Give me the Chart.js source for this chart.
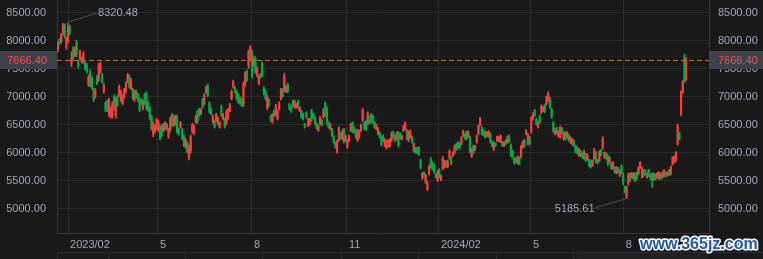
<!DOCTYPE html>
<html>
<head>
<meta charset="utf-8">
<script src="https://cdn.jsdelivr.net/npm/chart.js@4.4.1/dist/chart.umd.min.js"></script>
<style>
html, body { margin: 0; padding: 0; background: #191919; }
#wrap { position: relative; width: 763px; height: 259px; }
</style>
</head>
<body>
<div id="wrap"><canvas id="kline"></canvas></div>
<script>
// daily candles, Jan 2023 -> Sep 2024
const opens = [
  7855,8025,7990,8140,8290,7890,8000,8260,7600,7860,7750,7980,7640,7690,7620,7640,7610,7570,7220,7440,7330,7120,7000,7360,7320,7460,7400,7100,6890,6920,6700,6650,6660,7000,6670,7010,7040,6950,6880,7000,7100,7280,7360,7160,7130,6950,7100,7040,6950,6960,6800,7040,7060,6890,6800,6650,6330,6370,6440,6410,6470,6470,6400,6430,
  6510,6290,6420,6680,6500,6530,6640,6420,6460,6420,6300,6110,6180,5920,6040,6380,6350,6550,6740,6780,6700,6950,6890,7090,7200,6890,6780,6550,6570,6580,6520,6460,6830,6610,6600,6540,6620,6760,6970,7180,7170,7100,7040,6990,6960,6880,7220,7450,7550,7700,7800,7570,7690,7390,7240,7410,7600,7160,7100,6800,6960,6660,6550,6750,
  6690,6610,6790,6970,7130,7130,7100,7220,6870,6820,6930,6820,6810,6920,6750,6750,6690,6520,6720,6490,6520,6750,6700,6630,6530,6400,6520,6590,6640,6880,6790,6540,6430,6420,6290,6190,6030,6240,6350,6250,6410,6220,6100,6220,6400,6530,6460,6400,6230,6280,6400,6590,6540,6560,6530,6640,6690,6660,6540,6430,6340,6360,6280,6300,
  6130,6090,6120,6120,6230,6370,6300,6250,6350,6350,6245,6400,6430,6400,6230,6280,6290,6040,6090,6090,6100,5870,5550,5650,5480,5350,5630,5890,5830,5790,5625,5510,5700,5520,5730,5750,5850,5760,5910,5920,5950,6000,6160,6190,6180,6160,6310,6340,6370,6290,6280,5940,6120,6060,6190,6340,6500,6450,6410,6370,6300,6290,6340,6210,
  6060,6175,6220,6215,6200,6190,6130,6220,6190,6300,6140,6040,5905,5900,5820,5920,5930,6100,6230,6340,6170,6280,6380,6610,6760,6600,6460,6660,6720,6750,6860,6880,6940,6970,6780,6540,6340,6445,6295,6290,6445,6250,6360,6280,6325,6190,6160,6220,6130,6100,5955,6040,5995,5910,5980,5880,5875,5860,5775,5900,6000,5880,5870,6050,
  6090,5920,5995,5945,5830,5815,5725,5745,5645,5735,5595,5770,5630,5400,5210,5450,5630,5560,5545,5635,5650,5625,5745,5570,5695,5695,5560,5695,5615,5620,5525,5615,5560,5545,5625,5560,5595,5655,5600,5695,5625,5800,5830,5870,6160,6350,6690,7090,7720,7310
];
const highs = [
  7989,8048,8137,8316,8305,8078,8320.48,8286,7810,7899,7899,8018,7661,7840,7721,7810,7631,7602,7393,7483,7364,7155,7155,7393,7602,7631,7423,7245,6917,6947,6977,6828,6917,7036,7006,7036,7215,7125,7036,7155,7274,7423,7393,7334,7155,7125,7125,7066,6977,6977,6947,7066,7096,6917,6828,6679,6560,6501,6620,6590,6501,6501,6530,6560,
  6530,6441,6649,6709,6679,6679,6679,6441,6560,6441,6322,6262,6203,6143,6322,6530,6501,6679,6768,6798,6798,6977,7066,7197,7233,6917,6798,6679,6590,6709,6649,6560,6858,6709,6620,6768,6798,6887,7125,7304,7185,7125,7066,7006,6977,7274,7453,7483,7840,7911,7840,7721,7721,7542,7393,7423,7631,7185,7125,7036,6977,6679,6709,6768,
  6870,6768,6917,7155,7155,7423,7197,7245,6887,6840,6947,6947,6887,6947,6828,6768,6709,6530,6739,6620,6620,6780,6709,6649,6542,6501,6661,6602,6798,6911,6828,6560,6530,6441,6304,6203,6233,6471,6364,6411,6441,6322,6245,6322,6530,6560,6471,6423,6423,6411,6518,6798,6560,6590,6739,6661,6709,6679,6560,6518,6459,6381,6304,6322,
  6262,6233,6233,6262,6381,6393,6322,6381,6381,6364,6322,6501,6560,6423,6399,6411,6304,6185,6102,6102,6114,5893,5650,5667,5626,5489,5786,5923,5846,5804,5638,5697,5721,5608,5935,5876,5864,5876,6054,5935,6024,6143,6173,6203,6191,6292,6411,6352,6393,6393,6304,6084,6143,6143,6322,6501,6637,6471,6423,6381,6381,6399,6364,6221,
  6197,6185,6304,6304,6322,6203,6203,6233,6304,6322,6161,6054,5917,5917,5947,5935,6143,6221,6245,6423,6352,6304,6649,6721,6780,6620,6560,6679,6858,6828,6875,7018,7096,6995,6798,6560,6441,6459,6399,6483,6459,6381,6381,6381,6340,6292,6262,6233,6143,6114,6084,6054,6006,6054,5995,5983,5888,5876,5876,6084,6024,5888,6042,6066,
  6292,6024,6006,5965,5935,5828,5846,5757,5757,5745,5697,5786,5650,5411,5411,5638,5650,5650,5650,5650,5667,5757,5846,5757,5709,5709,5650,5709,5626,5650,5638,5626,5650,5667,5638,5667,5709,5667,5667,5709,5768,5935,5947,6024,6518,6364,7113,7304,7768,7709
];
const lows = [
  7810,7929,7959,8108,8048,7852,7959,8108,7542,7661,7721,7721,7512,7661,7602,7602,7483,7423,7185,7185,7125,6917,6977,7215,7274,7423,7245,7066,6739,6739,6649,6620,6620,6768,6620,6828,7006,6917,6858,6977,7066,7245,7155,7125,6947,6917,6977,6917,6739,6858,6768,6858,6768,6739,6590,6411,6292,6352,6411,6381,6233,6292,6381,6411,
  6411,6262,6381,6471,6471,6501,6352,6322,6441,6233,6114,6084,5995,5876,5995,6352,6322,6530,6530,6649,6679,6798,6858,7066,7006,6709,6679,6530,6441,6560,6501,6441,6649,6590,6441,6501,6590,6739,6947,7155,7066,6947,6887,6858,6828,6828,7185,7274,7512,7661,7334,7542,7423,7364,7215,7334,7364,7036,6947,6768,6828,6560,6530,6649,
  6661,6590,6768,6947,6995,7096,7078,7078,6768,6721,6828,6798,6798,6798,6739,6620,6590,6441,6620,6471,6501,6560,6620,6501,6423,6381,6501,6483,6620,6649,6501,6441,6411,6292,6173,6084,5995,6203,6245,6233,6173,6203,6084,6203,6381,6364,6352,6262,6203,6262,6381,6560,6411,6399,6501,6518,6530,6530,6441,6411,6322,6262,6126,6203,
  6114,6066,6102,6102,6203,6262,6203,6233,6102,6245,6233,6381,6411,6233,6203,6262,6173,6024,5995,5983,5953,5715,5530,5566,5459,5328,5608,5727,5697,5638,5548,5489,5548,5507,5697,5727,5739,5739,5888,5786,5935,5983,6042,6066,6084,6143,6292,6245,6233,6280,5995,5917,5983,6042,6173,6322,6483,6322,6304,6262,6292,6280,6173,6102,
  6042,6114,6203,6203,6185,6114,6114,6143,6173,6185,5935,5905,5804,5816,5804,5786,5905,6084,6102,6322,6143,6143,6352,6590,6649,6501,6441,6530,6697,6739,6721,6858,6917,6798,6620,6364,6322,6340,6280,6262,6340,6233,6221,6262,6215,6173,6143,6114,6006,5983,5935,5935,5905,5888,5846,5864,5757,5727,5757,5876,5816,5804,5846,5947,
  6066,5905,5888,5768,5816,5709,5709,5638,5626,5638,5578,5626,5429,5292,5185.61,5429,5489,5548,5530,5489,5530,5608,5727,5548,5578,5608,5548,5578,5519,5388,5507,5519,5548,5530,5530,5548,5578,5566,5590,5590,5608,5786,5816,5846,6143,6233,6661,7066,7256,7292
];
const closes = [
  7955,7955,8110,8280,8080,8040,8260,8140,7700,7700,7870,7760,7540,7800,7700,7780,7510,7450,7350,7220,7160,6950,7120,7240,7560,7600,7270,7200,6760,6770,6940,6790,6880,6800,6970,6860,7180,7090,7000,7120,7240,7400,7190,7300,6980,7090,7000,6940,6770,6880,6920,6890,6800,6760,6620,6440,6520,6470,6590,6560,6270,6320,6500,6530,
  6430,6410,6610,6500,6650,6650,6380,6340,6540,6260,6140,6230,6020,6110,6290,6500,6470,6650,6560,6670,6780,6820,7030,7170,7030,6740,6700,6650,6460,6680,6620,6540,6680,6690,6470,6740,6770,6860,7100,7280,7080,6970,6910,6880,6850,7230,7420,7300,7800,7880,7380,7690,7460,7510,7360,7350,7400,7060,6970,7000,6850,6580,6680,6670,
  6840,6740,6890,7120,7010,7380,7180,7100,6790,6740,6850,6920,6870,6820,6810,6640,6610,6460,6640,6600,6600,6590,6640,6520,6440,6480,6640,6500,6770,6680,6540,6460,6510,6310,6190,6100,6200,6440,6260,6380,6200,6300,6220,6300,6510,6390,6370,6280,6400,6390,6500,6770,6430,6420,6710,6540,6560,6550,6460,6500,6440,6280,6150,6220,
  6240,6200,6210,6240,6350,6280,6220,6360,6130,6260,6300,6480,6540,6260,6370,6390,6190,6160,6010,6000,5970,5740,5630,5580,5600,5470,5760,5750,5720,5660,5560,5670,5570,5590,5900,5850,5760,5850,6030,5810,6010,6120,6060,6080,6100,6270,6390,6260,6250,6380,6030,6060,6000,6130,6300,6480,6610,6340,6320,6280,6370,6380,6200,6120,
  6170,6125,6290,6285,6300,6130,6190,6160,6290,6200,5960,5920,5820,5830,5930,5800,6120,6200,6120,6410,6330,6160,6620,6700,6670,6520,6540,6550,6840,6815,6740,7000,7070,6820,6640,6390,6420,6355,6380,6460,6355,6360,6240,6365,6230,6275,6245,6130,6025,6000,6065,5955,5920,6030,5865,5965,5775,5745,5860,6060,5840,5815,6020,5965,
  6260,6005,5905,5790,5920,5725,5830,5655,5740,5650,5680,5640,5450,5310,5390,5610,5510,5635,5630,5510,5550,5740,5830,5730,5595,5620,5635,5595,5535,5520,5620,5535,5635,5650,5545,5650,5690,5580,5655,5605,5750,5920,5930,6010,6480,6250,7090,7280,7290,7666.40
];

const yTicks = [5000, 5500, 6000, 6500, 7000, 7500, 8000, 8500];
// candle index where each labelled month starts
const tickAt = [6, 58.8, 114, 169.8, 223.8, 277.8, 332.3];
const tickLabels = ['2023/02', '5', '8', '11', '2024/02', '5', '8'];

const UP = '#f2403e';
const DOWN = '#07a847';
const TXT = '#9ea8b7';
const GRID = '#2b2b2b';
const BORDER = '#353535';

Chart.defaults.font.family = '"Liberation Sans", Arial, sans-serif';
Chart.defaults.font.size = 11;

const wicks = highs.map((h, i) => ({ x: i, y: [lows[i], h] }));
const bodies = opens.map((o, i) => ({ x: i, y: [Math.min(o, closes[i]), Math.max(o, closes[i])] }));
const candleColor = c => closes[c.dataIndex] >= opens[c.dataIndex] ? UP : DOWN;

const overlay = {
  id: 'overlay',
  afterDraw(chart) {
    const { ctx, chartArea: a, scales } = chart;
    const x = scales.x, y = scales.y;
    const W = chart.width;
    ctx.save();
    ctx.font = '11px "Liberation Sans", Arial, sans-serif';
    ctx.textBaseline = 'middle';

    // highest / lowest markers
    const hi = highs.indexOf(Math.max(...highs));
    const lo = lows.indexOf(Math.min(...lows));
    ctx.strokeStyle = '#4b5058';
    ctx.lineWidth = 1;
    let px = x.getPixelForValue(hi), py = y.getPixelForValue(highs[hi]);
    ctx.beginPath(); ctx.moveTo(px, py - 1); ctx.lineTo(px + 29, py - 10); ctx.stroke();
    ctx.fillStyle = TXT;
    ctx.textAlign = 'left';
    ctx.fillText(highs[hi].toFixed(2), px + 30, py - 10);
    px = x.getPixelForValue(lo); py = y.getPixelForValue(lows[lo]);
    ctx.beginPath(); ctx.moveTo(px, py); ctx.lineTo(px - 31, py + 9); ctx.stroke();
    ctx.textAlign = 'right';
    ctx.fillText(lows[lo].toFixed(2), px - 32, py + 10);

    // last price line + side boxes
    const last = closes[closes.length - 1];
    const ly = Math.round(y.getPixelForValue(last)) + 0.5;
    ctx.strokeStyle = '#c46f2f';
    ctx.setLineDash([5, 3]);
    ctx.beginPath(); ctx.moveTo(a.left, ly); ctx.lineTo(a.right, ly); ctx.stroke();
    ctx.setLineDash([]);
    ctx.fillStyle = '#3c434c';
    ctx.fillRect(0, ly - 9.5, a.left, 18);
    ctx.fillRect(a.right, ly - 9.5, W - a.right, 18);
    ctx.fillStyle = '#ff4848';
    ctx.textAlign = 'right';
    ctx.fillText(last.toFixed(2), a.left - 10, ly);
    ctx.textAlign = 'left';
    ctx.fillText(last.toFixed(2), a.right + 9, ly);

    // navigator strip at the bottom
    ctx.fillStyle = '#202020';
    ctx.fillRect(577, 253, a.right - 577, 6);
    ctx.strokeStyle = '#2e2e2e';
    ctx.beginPath(); ctx.moveTo(a.left, 252.5); ctx.lineTo(W, 252.5); ctx.stroke();
    [57, 108, 185, 262, 341, 418, 496, 573].forEach(d => {
      ctx.beginPath(); ctx.moveTo(d + 0.5, 253); ctx.lineTo(d + 0.5, 259); ctx.stroke();
    });

    // watermark
    ctx.font = 'bold 16px "Liberation Sans", Arial, sans-serif';
    ctx.textAlign = 'left';
    ctx.textBaseline = 'alphabetic';
    ctx.lineJoin = 'round';
    ctx.lineWidth = 3;
    ctx.strokeStyle = '#ffffff';
    ctx.strokeText('www.365jz.com', 640, 249);
    ctx.fillStyle = '#2356a8';
    ctx.fillText('www.365jz.com', 640, 249);
    ctx.restore();
  }
};

const yScale = (pos, pad, w, showGrid) => ({
  type: 'linear',
  position: pos,
  min: 4571,
  max: 8732,
  afterBuildTicks: s => { s.ticks = yTicks.map(v => ({ value: v })); },
  afterFit: s => { s.width = w; s.paddingTop = 0; s.paddingBottom = 0; },
  grid: { display: showGrid, color: GRID, drawTicks: false },
  border: { color: BORDER },
  ticks: { color: TXT, padding: pad, callback: v => v.toFixed(2) }
});

new Chart(document.getElementById('kline'), {
  type: 'bar',
  data: {
    datasets: [
      { data: wicks, backgroundColor: candleColor, barThickness: 1, grouped: false, order: 2 },
      { data: bodies, backgroundColor: candleColor, barThickness: 1.5, minBarLength: 1, grouped: false, order: 1 }
    ]
  },
  options: {
    responsive: true,
    maintainAspectRatio: false,
    animation: false,
    events: [],
    layout: { padding: 0 },
    plugins: { legend: { display: false }, tooltip: { enabled: false } },
    scales: {
      x: {
        type: 'linear',
        min: -0.5,
        max: 382.4,
        offset: false,
        afterBuildTicks: s => { s.ticks = tickAt.map(v => ({ value: v })); },
        afterFit: s => { s.height = 26; s.paddingLeft = 0; s.paddingRight = 0; },
        grid: { color: GRID, drawTicks: false, offset: false },
        border: { color: BORDER },
        ticks: {
          color: TXT, padding: 5, align: 'start', labelOffset: 2,
          maxRotation: 0, autoSkip: false,
          callback: (v, i) => tickLabels[i]
        }
      },
      y: yScale('left', 11, 57, true),
      y2: yScale('right', 9, 54, false)
    }
  },
  plugins: [overlay]
});
</script>
</body>
</html>
